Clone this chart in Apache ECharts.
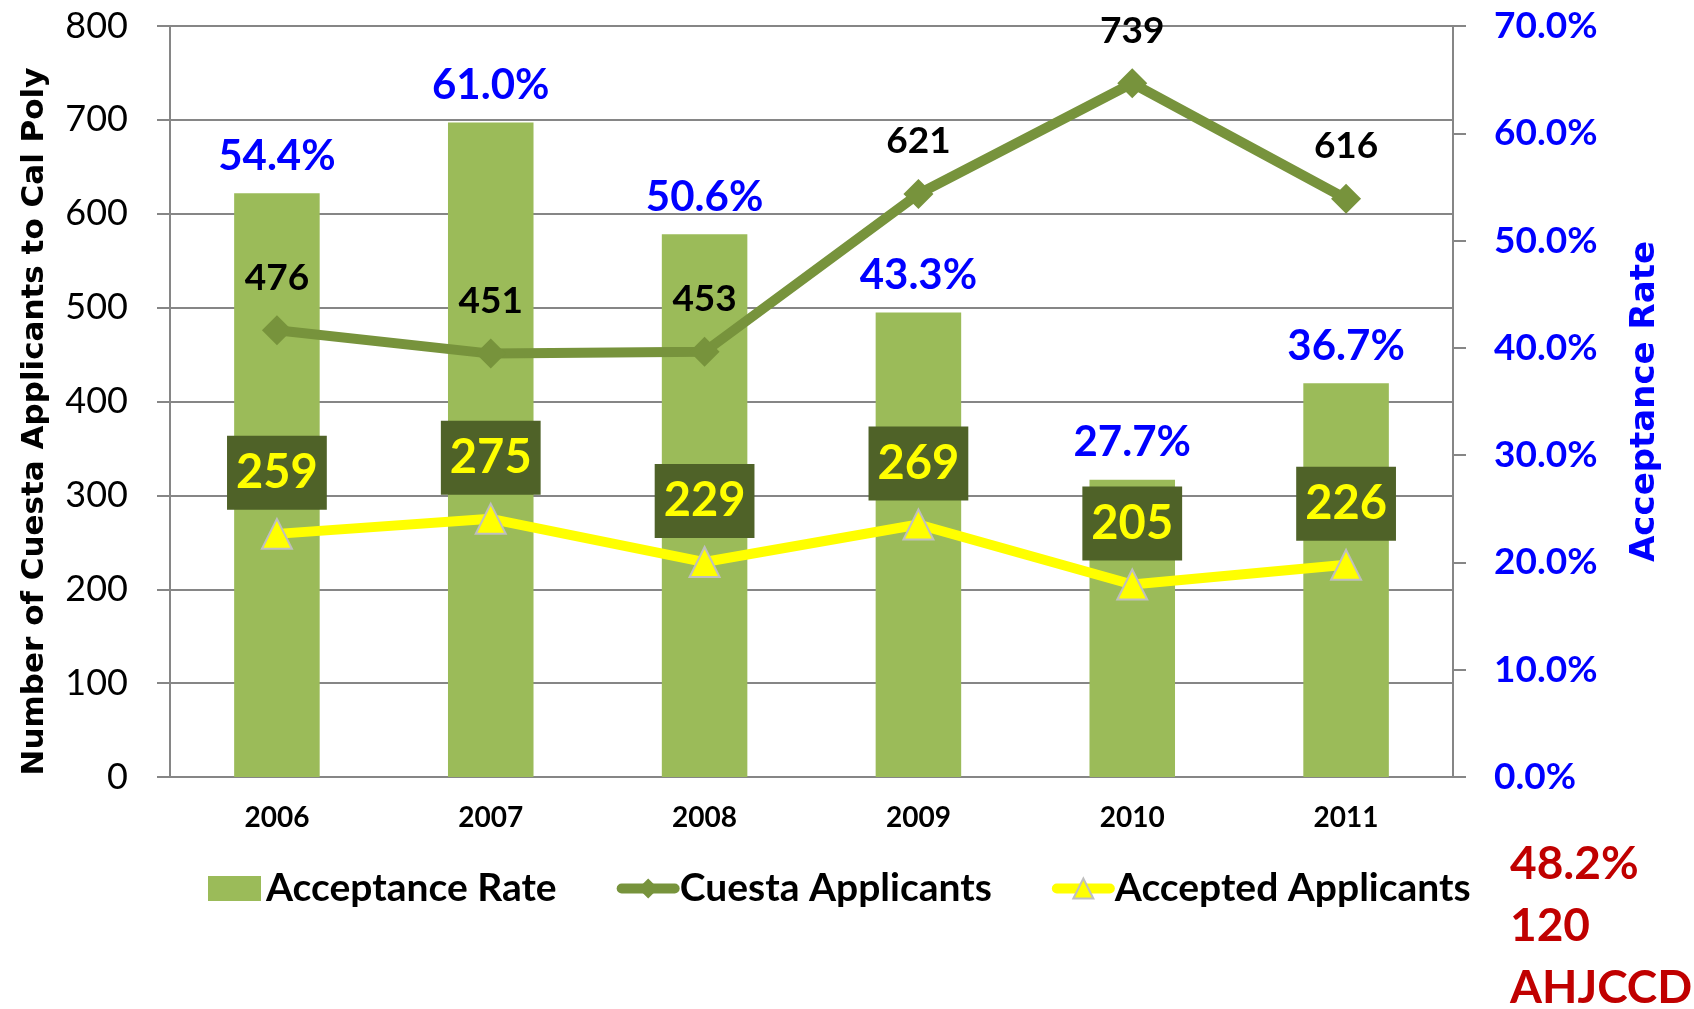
<!DOCTYPE html>
<html>
<head>
<meta charset="utf-8">
<title>Cuesta Applicants to Cal Poly</title>
<script src="https://cdn.jsdelivr.net/npm/echarts@6/dist/echarts.min.js"></script>
<style>
  html, body { margin: 0; padding: 0; background: #fff; }
  #chart { width: 1694px; height: 1009px; }
</style>
</head>
<body>
<div id="chart"></div>
<script>
// x axis
var years = ["2006", "2007", "2008", "2009", "2010", "2011"];
// acceptance rate, percent (bars, right axis)
var acceptanceRate = [54.4, 61.0, 50.6, 43.3, 27.7, 36.7];
// number of Cuesta applicants (left axis)
var cuestaApplicants = [476, 451, 453, 621, 739, 616];
// accepted applicants (left axis)
var acceptedApplicants = [259, 275, 229, 269, 205, 226];
// side notes in red
var notes = ["48.2%", "120", "AHJCCD"];

var gridColor = "#868686";
var barColor = "#9bbb59";
var lineColor = "#77933c";

var chart = echarts.init(document.getElementById("chart"));

chart.setOption({
  backgroundColor: "#fff",
  animation: false,
  grid: {
    left: 170,
    right: 241,
    top: 26,
    bottom: 232,
    containLabel: false,
    outerBoundsMode: "none"
  },
  legend: {
    left: 203,
    top: 864,
    itemWidth: 53,
    itemHeight: 25,
    itemGap: 60,
    lineStyle: { width: 10, cap: "round" },
    textStyle: {
      fontFamily: "Lato",
      fontWeight: "bold",
      fontSize: 39,
      color: "#000"
    },
    data: [
      { name: "Acceptance Rate", icon: "rect" },
      "Cuesta Applicants",
      "Accepted Applicants"
    ]
  },
  xAxis: {
    type: "category",
    data: years,
    axisLine: { lineStyle: { color: gridColor, width: 2 } },
    axisTick: { length: 11, lineStyle: { color: gridColor, width: 2 } },
    axisLabel: {
      margin: 27,
      color: "#000",
      fontFamily: "Lato",
      fontWeight: "bold",
      fontSize: 28
    }
  },
  yAxis: [
    {
      type: "value",
      position: "left",
      min: 0,
      max: 800,
      interval: 100,
      name: "Number of Cuesta Applicants to Cal Poly",
      nameLocation: "middle",
      nameRotate: 90,
      nameGap: 120,
      nameTextStyle: {
        fontFamily: "DejaVu Sans",
        fontWeight: "bold",
        fontSize: 31,
        color: "#000",
        padding: [0, 40, 0, 0]
      },
      axisLine: { show: true, lineStyle: { color: gridColor, width: 2 } },
      axisTick: { show: true, length: 13, lineStyle: { color: gridColor, width: 2 } },
      splitLine: { lineStyle: { color: gridColor, width: 2 } },
      axisLabel: {
        margin: 42,
        color: "#000",
        fontFamily: "Lato",
        fontSize: 36
      }
    },
    {
      type: "value",
      position: "right",
      min: 0,
      max: 70,
      interval: 10,
      name: "Acceptance Rate",
      nameLocation: "middle",
      nameRotate: 90,
      nameGap: 175,
      nameTextStyle: {
        fontFamily: "DejaVu Sans",
        fontWeight: "bold",
        fontSize: 34,
        color: "#0000ff"
      },
      axisLine: { show: true, lineStyle: { color: gridColor, width: 2 } },
      axisTick: { show: true, length: 13, lineStyle: { color: gridColor, width: 2 } },
      splitLine: { show: false },
      axisLabel: {
        margin: 41,
        color: "#0000ff",
        fontFamily: "Lato",
        fontWeight: "bold",
        fontSize: 37,
        formatter: function(v) {
          return v.toFixed(1) + "%";
        }
      }
    }
  ],
  series: [
    {
      name: "Acceptance Rate",
      type: "bar",
      yAxisIndex: 1,
      barWidth: "40%",
      data: acceptanceRate,
      itemStyle: { color: barColor },
      label: {
        show: true,
        position: "top",
        distance: 16,
        color: "#0000ff",
        fontFamily: "Lato",
        fontWeight: "bold",
        fontSize: 42,
        formatter: function(p) {
          return p.value.toFixed(1) + "%";
        }
      }
    },
    {
      name: "Cuesta Applicants",
      type: "line",
      yAxisIndex: 0,
      data: cuestaApplicants,
      symbol: "diamond",
      symbolSize: 30,
      itemStyle: { color: lineColor },
      lineStyle: { color: lineColor, width: 10 },
      label: {
        show: true,
        position: "top",
        distance: 19,
        color: "#000",
        fontFamily: "Lato",
        fontWeight: "bold",
        fontSize: 37
      }
    },
    {
      name: "Accepted Applicants",
      type: "line",
      yAxisIndex: 0,
      data: acceptedApplicants,
      symbol: "triangle",
      symbolSize: 30,
      z: 4,
      itemStyle: { color: "#ffff00", borderColor: "#bfbfbf", borderWidth: 2 },
      lineStyle: { color: "#ffff00", width: 10 },
      label: {
        show: true,
        position: "top",
        distance: 8,
        color: "#ffff00",
        backgroundColor: "#4f6228",
        padding: [14, 9],
        lineHeight: 46,
        fontFamily: "Lato",
        fontWeight: "bold",
        fontSize: 47
      }
    }
  ],
  graphic: notes.map(function(t, i) {
    return {
      type: "text",
      x: 1510,
      y: 864 + i * 62,
      style: {
        text: t,
        fill: "#c00000",
        font: "bold 46px Lato",
        verticalAlign: "middle"
      }
    };
  })
});
</script>
</body>
</html>
